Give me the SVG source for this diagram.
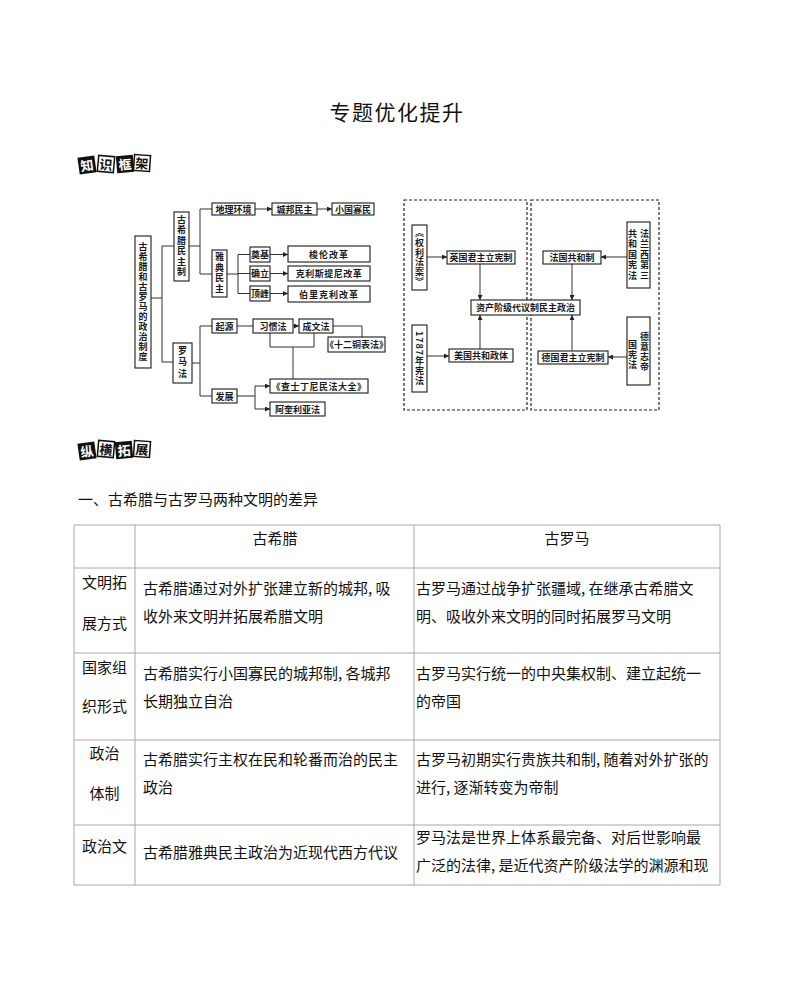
<svg xmlns="http://www.w3.org/2000/svg" width="794" height="983" viewBox="0 0 794 983">
<style>
.bx{fill:#fff;stroke:#1a1a1a;stroke-width:1.1}
.ln{fill:none;stroke:#333;stroke-width:1}
.ar{fill:none;stroke:#333;stroke-width:1;marker-end:url(#ah)}
.dsh{fill:none;stroke:#222;stroke-width:1.2;stroke-dasharray:3 2}
.t{font-family:"Noto Sans CJK SC","Noto Sans",sans-serif;font-size:9px;font-weight:700;fill:#1a1a1a;text-anchor:middle;dominant-baseline:central}
.v{writing-mode:vertical-rl}
.tb{font-family:"Noto Sans CJK SC","Noto Sans",sans-serif;font-size:15px;fill:#111}
.grid{stroke:#a8a8a8;stroke-width:1;fill:none}
.bk{fill:#111}
.wb{fill:#fff;stroke:#111;stroke-width:1.5}
.bt{font-family:"Noto Sans CJK SC",sans-serif;font-size:13px;font-weight:700;text-anchor:middle;dominant-baseline:central}
</style>
<defs>
<marker id="ah" viewBox="0 0 6 6" refX="6" refY="3" markerWidth="5" markerHeight="5" orient="auto" markerUnits="userSpaceOnUse">
<path d="M0,0 L6,3 L0,6 z" fill="#222"/>
</marker>
</defs>
<rect width="794" height="983" fill="#fff"/>

<text x="397" y="120" font-family="'Noto Sans CJK SC',sans-serif" font-size="21" letter-spacing="1.5" text-anchor="middle" fill="#111">专题优化提升</text>

<g id="badge1">
<g transform="rotate(-8 87 165)"><rect x="78.5" y="156.5" width="17" height="17" class="bk"/><text x="87" y="165" class="bt" fill="#fff">知</text></g>
<g transform="rotate(5 106 164)"><rect x="98" y="156" width="16" height="16" class="wb"/><text x="106" y="164" class="bt" fill="#111">识</text></g>
<g transform="rotate(-5 125 164)"><rect x="116.5" y="155.5" width="17" height="17" class="bk"/><text x="125" y="164" class="bt" fill="#fff">框</text></g>
<g transform="rotate(4 142 163)"><rect x="134" y="155" width="16" height="16" class="wb"/><text x="142" y="163" class="bt" fill="#111">架</text></g>
</g>

<g id="badge2">
<g transform="rotate(-8 87 451)"><rect x="78.5" y="442.5" width="17" height="17" class="bk"/><text x="87" y="451" class="bt" fill="#fff">纵</text></g>
<g transform="rotate(5 106 449)"><rect x="98" y="441" width="16" height="16" class="wb"/><text x="106" y="449" class="bt" fill="#111">横</text></g>
<g transform="rotate(-5 124 450)"><rect x="115.5" y="441.5" width="17" height="17" class="bk"/><text x="124" y="450" class="bt" fill="#fff">拓</text></g>
<g transform="rotate(4 142 449)"><rect x="134" y="441" width="16" height="16" class="wb"/><text x="142" y="449" class="bt" fill="#111">展</text></g>
</g>

<!-- Left diagram connectors -->
<g id="connectors-left">
<path class="ln" d="M151,298 H162 M162,246 V362 M162,246 H174 M162,362 H173"/>
<path class="ln" d="M189,246 H200 M200,209 V274 M200,209 H212 M200,274 H212"/>
<path class="ar" d="M255,209 H272"/>
<path class="ar" d="M317,209 H332"/>
<path class="ln" d="M227,274 H238 M238,254.5 V293.5 M238,254.5 H250 M238,273.5 H250 M238,293.5 H250"/>
<path class="ar" d="M270,254.5 H288"/>
<path class="ar" d="M270,273.5 H288"/>
<path class="ar" d="M270,293.5 H288"/>
<path class="ln" d="M192,363 H200 M200,326 V396 M200,326 H212 M200,396 H212"/>
<path class="ln" d="M237,326 H253"/>
<path class="ar" d="M293,326 H299"/>
<path class="ln" d="M333,326 H362 V337"/>
<path class="ln" d="M270,333 V347 H314 V333 M293,347 V379"/>
<path class="ln" d="M237,396 H255 M255,386 V409"/>
<path class="ar" d="M255,386 H270"/>
<path class="ar" d="M255,409 H270"/>
</g>

<!-- Left diagram nodes -->
<g id="n-root"><rect class="bx" x="135" y="236" width="16" height="132"/><text class="t v" x="143" y="302" font-size="9.5" letter-spacing="1">古希腊和古罗马的政治制度</text></g>
<g id="n-greece"><rect class="bx" x="174" y="212" width="15" height="69"/><text class="t v" x="181.5" y="246.5" font-size="9.5" letter-spacing="1.5">古希腊民主制</text></g>
<g id="n-geo"><rect class="bx" x="212" y="203" width="43" height="12"/><text class="t" x="233.5" y="209">地理环境</text></g>
<g id="n-city"><rect class="bx" x="272" y="203" width="45" height="12"/><text class="t" x="294.5" y="209">城邦民主</text></g>
<g id="n-small"><rect class="bx" x="332" y="203" width="42" height="12"/><text class="t" x="353" y="209">小国寡民</text></g>
<g id="n-athens"><rect class="bx" x="212" y="250" width="15" height="47"/><text class="t v" x="219.5" y="273.5" font-size="9.5" letter-spacing="1.5">雅典民主</text></g>
<g id="n-found"><rect class="bx" x="250" y="247" width="20" height="15"/><text class="t" x="260" y="254.5">奠基</text></g>
<g id="n-solon"><rect class="bx" x="288" y="246" width="82" height="16"/><text class="t" x="329" y="254" font-size="9.5" letter-spacing="1">梭伦改革</text></g>
<g id="n-estab"><rect class="bx" x="250" y="266" width="20" height="15"/><text class="t" x="260" y="273.5">确立</text></g>
<g id="n-cleis"><rect class="bx" x="288" y="266" width="82" height="15"/><text class="t" x="329" y="273.5" font-size="9.5" letter-spacing="0.5">克利斯提尼改革</text></g>
<g id="n-peak"><rect class="bx" x="250" y="286" width="20" height="15"/><text class="t" x="260" y="293.5">顶峰</text></g>
<g id="n-peric"><rect class="bx" x="288" y="286" width="82" height="16"/><text class="t" x="329" y="294" font-size="9.5" letter-spacing="1">伯里克利改革</text></g>
<g id="n-roman"><rect class="bx" x="173" y="343" width="19" height="40"/><text class="t v" x="182.5" y="363" font-size="9.5" letter-spacing="2.5">罗马法</text></g>
<g id="n-origin"><rect class="bx" x="212" y="319" width="25" height="14"/><text class="t" x="224.5" y="326">起源</text></g>
<g id="n-custom"><rect class="bx" x="253" y="319" width="40" height="14"/><text class="t" x="273" y="326">习惯法</text></g>
<g id="n-written"><rect class="bx" x="299" y="319" width="34" height="14"/><text class="t" x="316" y="326">成文法</text></g>
<g id="n-twelve"><rect class="bx" x="328" y="337" width="57" height="15"/><text class="t" x="356.5" y="344.5">《十二铜表法》</text></g>
<g id="n-dev"><rect class="bx" x="212" y="389" width="25" height="14"/><text class="t" x="224.5" y="396">发展</text></g>
<g id="n-just"><rect class="bx" x="270" y="379" width="98" height="14"/><text class="t" x="319" y="386" letter-spacing="0.5">《查士丁尼民法大全》</text></g>
<g id="n-aquil"><rect class="bx" x="270" y="402" width="55" height="14"/><text class="t" x="297.5" y="409">阿奎利亚法</text></g>

<!-- Right diagram -->
<rect class="dsh" x="404" y="200" width="123" height="210"/>
<rect class="dsh" x="531" y="200" width="128" height="210"/>

<g id="connectors-right">
<path class="ar" d="M427,257 H447"/>
<path class="ar" d="M480,264 V300"/>
<path class="ar" d="M427,356 H449"/>
<path class="ar" d="M480,349 V315"/>
<path class="ar" d="M627,257 H601"/>
<path class="ar" d="M572,264 V300"/>
<path class="ar" d="M627,357 H608"/>
<path class="ar" d="M572,351 V315"/>
</g>

<g id="n-bill"><rect class="bx" x="412" y="225" width="15" height="65"/><text class="t v" x="419.5" y="257.5" font-size="9.5" letter-spacing="0.8">《权利法案》</text></g>
<g id="n-uk"><rect class="bx" x="447" y="251" width="68" height="13"/><text class="t" x="481" y="257.5" font-size="9.3">英国君主立宪制</text></g>
<g id="n-bourg"><rect class="bx" x="471" y="300" width="109" height="15"/><text class="t" x="525.5" y="307.5" font-size="9.3">资产阶级代议制民主政治</text></g>
<g id="n-1787"><rect class="bx" x="412" y="325" width="15" height="67"/><text class="t v" x="419.5" y="358.5" font-size="9.5" letter-spacing="1">1787年宪法</text></g>
<g id="n-us"><rect class="bx" x="449" y="349" width="64" height="13"/><text class="t" x="481" y="355.5" font-size="9.3">美国共和政体</text></g>
<g id="n-fr3"><rect class="bx" x="627" y="222" width="23" height="66"/><text class="t v" x="644.5" y="255" font-size="9" letter-spacing="1.5">法兰西第三</text><text class="t v" x="632.5" y="255" font-size="9" letter-spacing="1.5">共和国宪法</text></g>
<g id="n-fr"><rect class="bx" x="543" y="251" width="58" height="13"/><text class="t" x="572" y="257.5" font-size="9.3">法国共和制</text></g>
<g id="n-de-const"><rect class="bx" x="627" y="317" width="23" height="68"/><text class="t v" x="644.5" y="352" font-size="9" letter-spacing="1">德意志帝</text><text class="t v" x="632.5" y="355" font-size="9" letter-spacing="1">国宪法</text></g>
<g id="n-de"><rect class="bx" x="538" y="351" width="70" height="13"/><text class="t" x="573" y="357.5" font-size="9.3">德国君主立宪制</text></g>

<text x="78" y="505" class="tb">一、古希腊与古罗马两种文明的差异</text>

<!-- Table -->
<g id="table">
<path class="grid" d="M74,525 H720 V885 H74 Z M135,525 V885 M414,525 V885 M74,568 H720 M74,653 H720 M74,740 H720 M74,825 H720"/>
<text x="275" y="544" class="tb" text-anchor="middle">古希腊</text>
<text x="567" y="544" class="tb" text-anchor="middle">古罗马</text>

<text x="104.5" y="588" class="tb" text-anchor="middle">文明拓</text>
<text x="104.5" y="629" class="tb" text-anchor="middle">展方式</text>
<text x="143" y="594" class="tb">古希腊通过对外扩张建立新的城邦, 吸</text>
<text x="143" y="622" class="tb">收外来文明并拓展希腊文明</text>
<text x="416" y="594" class="tb">古罗马通过战争扩张疆域, 在继承古希腊文</text>
<text x="416" y="622" class="tb">明、吸收外来文明的同时拓展罗马文明</text>

<text x="104.5" y="673" class="tb" text-anchor="middle">国家组</text>
<text x="104.5" y="712" class="tb" text-anchor="middle">织形式</text>
<text x="143" y="679" class="tb">古希腊实行小国寡民的城邦制, 各城邦</text>
<text x="143" y="707" class="tb">长期独立自治</text>
<text x="416" y="679" class="tb">古罗马实行统一的中央集权制、建立起统一</text>
<text x="416" y="707" class="tb">的帝国</text>

<text x="104.5" y="759" class="tb" text-anchor="middle">政治</text>
<text x="104.5" y="799" class="tb" text-anchor="middle">体制</text>
<text x="143" y="765" class="tb">古希腊实行主权在民和轮番而治的民主</text>
<text x="143" y="793" class="tb">政治</text>
<text x="416" y="765" class="tb">古罗马初期实行贵族共和制, 随着对外扩张的</text>
<text x="416" y="793" class="tb">进行, 逐渐转变为帝制</text>

<text x="104.5" y="852" class="tb" text-anchor="middle">政治文</text>
<text x="143" y="858" class="tb">古希腊雅典民主政治为近现代西方代议</text>
<text x="416" y="843" class="tb">罗马法是世界上体系最完备、对后世影响最</text>
<text x="416" y="871" class="tb">广泛的法律, 是近代资产阶级法学的渊源和现</text>
</g>
</svg>
